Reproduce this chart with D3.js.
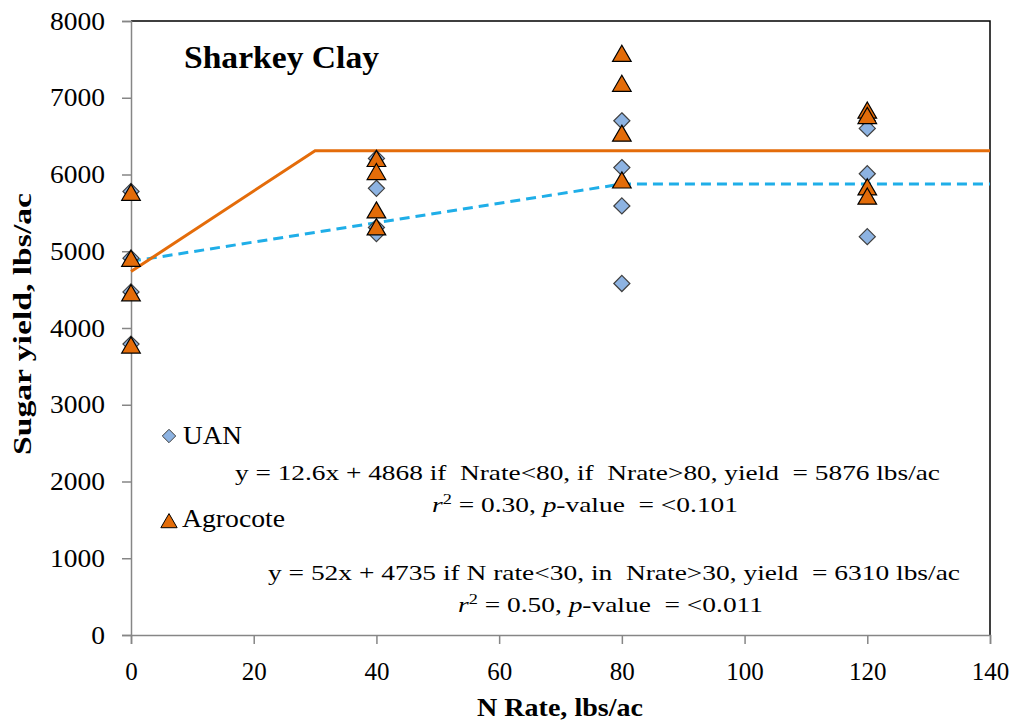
<!DOCTYPE html>
<html>
<head>
<meta charset="utf-8">
<script src="https://cdn.jsdelivr.net/npm/d3@7"></script>
<style>
body{margin:0;background:#fff;}
text{font-family:"Liberation Serif","Times New Roman",serif;fill:#000;}
</style>
</head>
<body>
<div id="chart"></div>
<script>
// N rate levels and observed sugar yield (lbs/ac)
var uanRates=[0,0,0,0,40,40,40,40,80,80,80,80,120,120,120,120]
var uanYield=[5780,4910,4470,3790,6210,5820,5310,5230,6700,6090,5590,4580,6700,6600,6010,5190]
var agroRates=[0,0,0,0,40,40,40,40,80,80,80,80,120,120,120,120]
var agroYield=[5760,4900,4450,3770,6200,6030,5530,5310,7570,7180,6530,5920,6830,6760,5830,5710]

// fitted linear-plateau lines
var uanFitX=[0,80,140]
var uanFitY=[4868,5876,5876]
var agroFitX=[0,30,140]
var agroFitY=[4735,6310,6310]

var xTicks=[0,20,40,60,80,100,120,140]
var yTicks=[0,1000,2000,3000,4000,5000,6000,7000,8000]

var width=1015,height=723
var margin={left:131,top:21,right:25,bottom:88}

var svg=d3.select("#chart").append("svg").attr("width",width).attr("height",height)

var x=d3.scaleLinear().domain([0,140]).range([margin.left,width-margin.right])
var y=d3.scaleLinear().domain([0,8000]).range([height-margin.bottom,margin.top])

// plot border (top & right black)
svg.append("path")
	.attr("d","M"+x(0)+","+y(8000)+"H"+x(140)+"V"+y(0))
	.attr("fill","none").attr("stroke","#000").attr("stroke-width",1.5)

var xAxis=svg.append("g").attr("transform","translate(0,"+y(0)+")")
	.call(d3.axisBottom(x).tickValues(xTicks).tickFormat(d3.format("d")).tickSize(9).tickPadding(18))
var yAxis=svg.append("g").attr("transform","translate("+x(0)+",0)")
	.call(d3.axisLeft(y).tickValues(yTicks).tickFormat(d3.format("d")).tickSize(9).tickPadding(17))
xAxis.selectAll("path,line").attr("stroke","#868686").attr("stroke-width",1.5)
yAxis.selectAll("path,line").attr("stroke","#868686").attr("stroke-width",1.5)
xAxis.selectAll("text").style("font-size","25px").style("font-family","Liberation Serif").attr("fill","#000")
yAxis.selectAll("text").style("font-size","25px").style("font-family","Liberation Serif").attr("fill","#000")
	.attr("x",-26/1.1).attr("transform","scale(1.1,1)")

// fit lines
var line=d3.line().x(function(d){return x(d[0])}).y(function(d){return y(d[1])})
svg.append("path").datum(d3.zip(uanFitX,uanFitY)).attr("d",line)
	.attr("fill","none").attr("stroke","#1FAEE8").attr("stroke-width",3).attr("stroke-dasharray","10,6")
svg.append("path").datum(d3.zip(agroFitX,agroFitY)).attr("d",line)
	.attr("fill","none").attr("stroke","#E46C0A").attr("stroke-width",3)

var diamond=d3.symbol().type(d3.symbolDiamond2).size(165)
var triangle=d3.symbol().type(d3.symbolTriangle).size(150)

svg.append("g").selectAll("path").data(d3.zip(uanRates,uanYield)).enter().append("path")
	.attr("d",diamond)
	.attr("transform",function(d){return "translate("+x(d[0])+","+y(d[1])+")"})
	.attr("fill","#8DB3E2").attr("stroke","#404040").attr("stroke-width",1.2)

svg.append("g").selectAll("path").data(d3.zip(agroRates,agroYield)).enter().append("path")
	.attr("d",triangle)
	.attr("transform",function(d){return "translate("+x(d[0])+","+(y(d[1])+2)+")"})
	.attr("fill","#E36C09").attr("stroke","#000").attr("stroke-width",1.2)

// fixed-width text helper (the source text is set a bit wider than the font)
function label(xp,yp,str,size,len,bold){
	return svg.append("text").attr("x",xp).attr("y",yp).text(str)
		.style("font-size",size+"px").style("font-weight",bold?"bold":"normal")
		.attr("textLength",len).attr("lengthAdjust","spacingAndGlyphs")
}

// title
label(184,68,"Sharkey Clay",32,195,true)

// axis titles
label(477,716,"N Rate, lbs/ac",25,166,true)
label(0,0,"Sugar yield, lbs/ac",25,262,true).attr("transform","translate(31,455) rotate(-90)")

// legend
svg.append("path").attr("d",d3.symbol().type(d3.symbolDiamond2).size(115))
	.attr("transform","translate(169,436)").attr("fill","#8DB3E2").attr("stroke","#404040")
label(183,444,"UAN",25,59)
svg.append("path").attr("d",d3.symbol().type(d3.symbolTriangle).size(115))
	.attr("transform","translate(169,523)").attr("fill","#E36C09").attr("stroke","#000")
label(182,527,"Agrocote",25,103)

// equations
function eq(xp,yp,len,parts){
	var t=svg.append("text").attr("x",xp).attr("y",yp).style("font-size","21px")
		.attr("textLength",len).attr("lengthAdjust","spacingAndGlyphs")
	parts.forEach(function(p){
		var s=t.append("tspan").text(p.t)
		if(p.i) s.style("font-style","italic")
		if(p.sup) s.attr("dy",-8).style("font-size","14px")
		if(p.down) s.attr("dy",8)
	})
}
eq(235,480,705,[{t:"y = 12.6x + 4868 if\u00a0 Nrate<80, if\u00a0 Nrate>80, yield\u00a0 = 5876 lbs/ac"}])
eq(432,512,306,[{t:"r",i:1},{t:"2",sup:1},{t:" = 0.30, ",down:1},{t:"p",i:1},{t:"-value\u00a0 = <0.101"}])
eq(268,580,692,[{t:"y = 52x + 4735 if N rate<30, in\u00a0 Nrate>30, yield\u00a0 = 6310 lbs/ac"}])
eq(458,612,305,[{t:"r",i:1},{t:"2",sup:1},{t:" = 0.50, ",down:1},{t:"p",i:1},{t:"-value\u00a0 = <0.011"}])
</script>
</body>
</html>
